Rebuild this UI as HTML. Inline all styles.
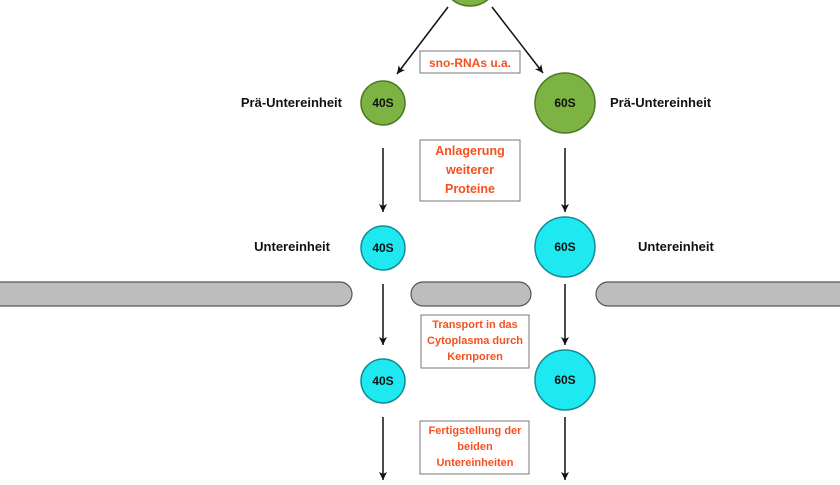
<!DOCTYPE html>
<html><head><meta charset="utf-8"><style>
body{margin:0;background:#fff;width:840px;height:480px;overflow:hidden}
text{font-family:"Liberation Sans",sans-serif;font-weight:bold}
</style></head><body>
<svg width="840" height="480" viewBox="0 0 840 480">
<defs><marker id="a" markerWidth="10" markerHeight="10" refX="8" refY="5" orient="auto" markerUnits="userSpaceOnUse"><path d="M0,1 L8,5 L0,9 L2,5 z" fill="#111"/></marker></defs>
<g stroke="#111" stroke-width="1.5" marker-end="url(#a)">
<line x1="448" y1="7" x2="397" y2="74"/><line x1="492" y1="7" x2="543" y2="73"/>
<line x1="383" y1="148" x2="383" y2="212"/><line x1="565" y1="148" x2="565" y2="212"/>
<line x1="383" y1="284" x2="383" y2="345"/><line x1="565" y1="284" x2="565" y2="345"/>
<line x1="383" y1="417" x2="383" y2="480"/><line x1="565" y1="417" x2="565" y2="480"/>
</g>
<circle cx="470" cy="-22" r="28" fill="#7cb342" stroke="#4a7a25" stroke-width="1.5"/>
<g fill="#bdbdbd" stroke="#555" stroke-width="1.2">
<rect x="-20" y="282" width="372" height="24" rx="12"/>
<rect x="411" y="282" width="120" height="24" rx="12"/>
<rect x="596" y="282" width="260" height="24" rx="12"/>
</g>
<g fill="#7cb342" stroke="#4a7a25" stroke-width="1.5">
<circle cx="383" cy="103" r="22"/><circle cx="565" cy="103" r="30"/></g>
<g fill="#1ee8f0" stroke="#138c96" stroke-width="1.5">
<circle cx="383" cy="248" r="22"/><circle cx="565" cy="247" r="30"/>
<circle cx="383" cy="381" r="22"/><circle cx="565" cy="380" r="30"/></g>
<g font-size="12" text-anchor="middle" fill="#111">
<text x="383" y="107">40S</text><text x="565" y="107">60S</text>
<text x="383" y="252">40S</text><text x="565" y="251">60S</text>
<text x="383" y="385">40S</text><text x="565" y="384">60S</text>
</g>
<g font-size="13" fill="#111">
<text x="342" y="107" text-anchor="end">Prä-Untereinheit</text>
<text x="610" y="107">Prä-Untereinheit</text>
<text x="330" y="251" text-anchor="end">Untereinheit</text>
<text x="638" y="251">Untereinheit</text>
</g>
<g fill="#fff" stroke="#777" stroke-width="1">
<rect x="420" y="51" width="100" height="22"/>
<rect x="420" y="140" width="100" height="61"/>
<rect x="421" y="315" width="108" height="53"/>
<rect x="420" y="421" width="109" height="53"/>
</g>
<g fill="#f4511e" text-anchor="middle">
<text x="470" y="67" font-size="12">sno-RNAs u.a.</text>
<text font-size="12.5" x="470"><tspan x="470" y="155">Anlagerung</tspan><tspan x="470" y="174">weiterer</tspan><tspan x="470" y="193">Proteine</tspan></text>
<text font-size="11" x="475"><tspan x="475" y="328">Transport in das</tspan><tspan x="475" y="344">Cytoplasma durch</tspan><tspan x="475" y="360">Kernporen</tspan></text>
<text font-size="11" x="475"><tspan x="475" y="434">Fertigstellung der</tspan><tspan x="475" y="450">beiden</tspan><tspan x="475" y="466">Untereinheiten</tspan></text>
</g>
</svg>
</body></html>
